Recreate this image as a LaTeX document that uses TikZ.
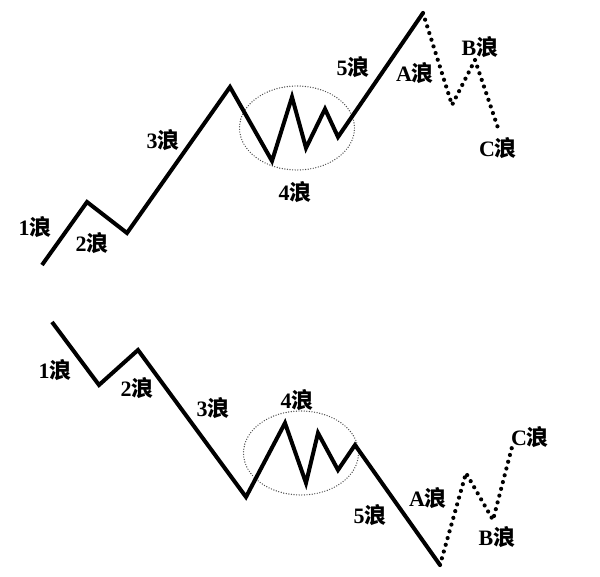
\documentclass[tikz,border=0pt]{standalone}
\usepackage{fontspec}
\setmainfont{Liberation Serif}
\newfontfamily\cjk{Noto Sans CJK SC}
\usetikzlibrary{shapes.geometric}

\begin{document}
\begin{tikzpicture}[
    x=1pt, y=-1pt,
    wave/.style={line width=4pt, line join=miter},
    corr/.style={line width=4.2pt, line cap=round, dash pattern=on 0pt off 7pt},
    ring/.style={ellipse, draw=black!70, line width=1.4pt, line cap=round, dash pattern=on 0pt off 2.6pt, minimum width=115, minimum height=84, inner sep=0pt},
    lbl/.style={font=\fontsize{22}{24}\selectfont\bfseries, inner sep=0pt}
]
    \useasboundingbox (0,0) rectangle (600,577);

    % Up trend
    \coordinate (s) at (42,265);
    \coordinate (p1) at (87,202);
    \coordinate (p2) at (127,233);
    \coordinate (p3) at (230,87);
    \coordinate (p4a) at (272,161);
    \coordinate (p4b) at (292,97);
    \coordinate (p4c) at (306,148);
    \coordinate (p4d) at (325,109);
    \coordinate (p4e) at (338,137);
    \coordinate (p5) at (423,13);
    \coordinate (pa) at (452,105);
    \coordinate (pb) at (475,60);
    \coordinate (pc) at (498,128);

    \node[ring] (ring1) at (297,128) {};
    \draw[wave] (s) -- (p1) -- (p2) -- (p3) -- (p4a) -- (p4b) -- (p4c) -- (p4d) -- (p4e) -- (p5);
    \draw[corr] (p5) -- (pa) -- (pb) -- (pc);

    \node[lbl] (u1) at (35,227) {1{\cjk 浪}};
    \node[lbl] (u2) at (92,243) {2{\cjk 浪}};
    \node[lbl] (u3) at (163,140) {3{\cjk 浪}};
    \node[lbl] (u4) at (295,192) {4{\cjk 浪}};
    \node[lbl] (u5) at (353,67) {5{\cjk 浪}};
    \node[lbl] (ua) at (415,73) {A{\cjk 浪}};
    \node[lbl] (ub) at (480,47) {B{\cjk 浪}};
    \node[lbl] (uc) at (498,148) {C{\cjk 浪}};

    % Down trend
    \coordinate (q0) at (52,322);
    \coordinate (q1) at (99,385);
    \coordinate (q2) at (138,350);
    \coordinate (q3) at (246,497);
    \coordinate (q4b) at (285,423);
    \coordinate (q4c) at (306,483);
    \coordinate (q4d) at (318,433);
    \coordinate (q4e) at (338,470);
    \coordinate (q4f) at (355,445);
    \coordinate (q5) at (440,565);
    \coordinate (qa) at (466,473);
    \coordinate (qb) at (493,520);
    \coordinate (qc) at (512,447);

    \node[ring] (ring2) at (301,453) {};
    \draw[wave] (q0) -- (q1) -- (q2) -- (q3) -- (q4b) -- (q4c) -- (q4d) -- (q4e) -- (q4f) -- (q5);
    \draw[corr] (q5) -- (qa) -- (qb) -- (qc);

    \node[lbl] (d1) at (55,370) {1{\cjk 浪}};
    \node[lbl] (d2) at (137,388) {2{\cjk 浪}};
    \node[lbl] (d3) at (213,408) {3{\cjk 浪}};
    \node[lbl] (d4) at (297,400) {4{\cjk 浪}};
    \node[lbl] (d5) at (370,515) {5{\cjk 浪}};
    \node[lbl] (da) at (428,498) {A{\cjk 浪}};
    \node[lbl] (db) at (497,537) {B{\cjk 浪}};
    \node[lbl] (dc) at (530,437) {C{\cjk 浪}};
\end{tikzpicture}
\end{document}
